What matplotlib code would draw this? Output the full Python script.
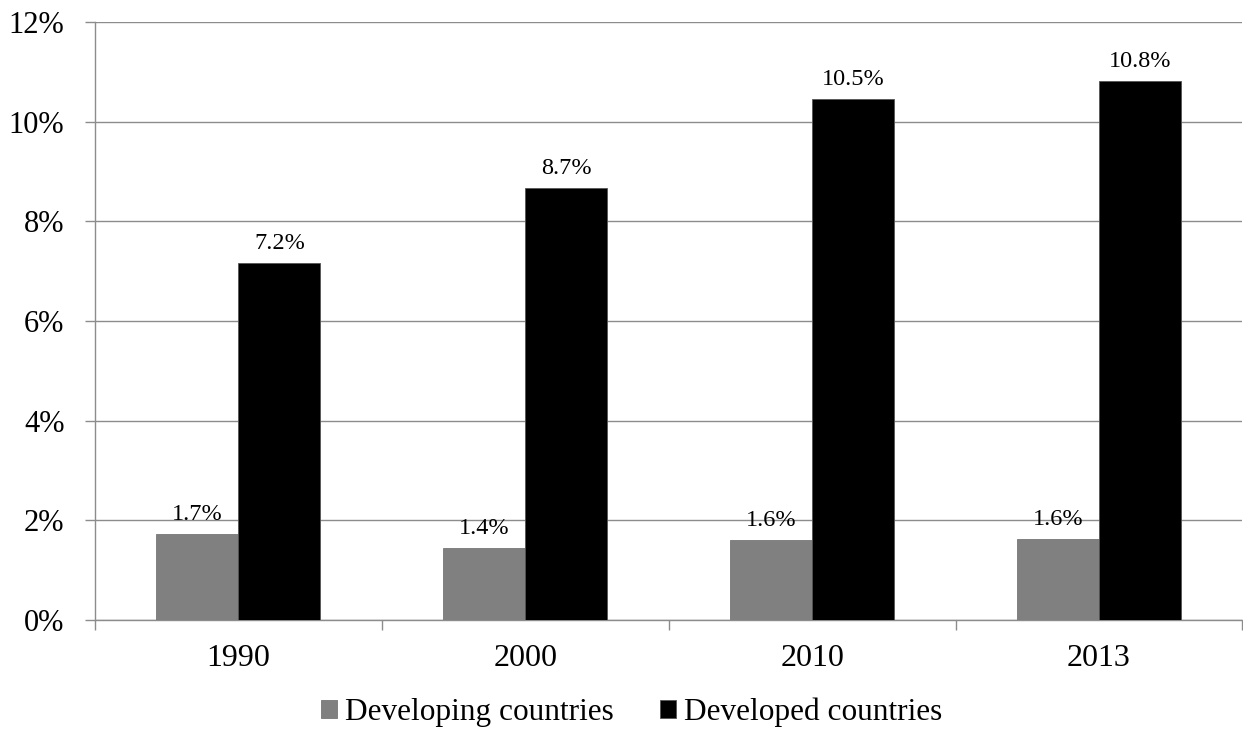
import numpy as np
import matplotlib.pyplot as plt
from matplotlib.ticker import FuncFormatter, FixedLocator

plt.rcParams['font.family'] = ['Liberation Serif', 'DejaVu Serif']

years      = ['1990', '2000', '2010', '2013']
developing = [1.72, 1.44, 1.60, 1.62]
developed  = [7.17, 8.66, 10.46, 10.82]
dev_lbl    = ['1.7%', '1.4%', '1.6%', '1.6%']
ded_lbl    = ['7.2%', '8.7%', '10.5%', '10.8%']

GRID = '#8c8c8c'

fig = plt.figure(figsize=(12.43, 7.29), dpi=100)
ax = fig.add_axes([0.0764, 0.1495, 0.9236 - 0.0005, 0.8205])

x = np.arange(len(years))
w = 0.286
b1 = ax.bar(x - w/2, developing, w, color='#808080', edgecolor='#777777', linewidth=0.6,
            label='Developing countries', zorder=3)
b2 = ax.bar(x + w/2, developed, w, color='#000000', edgecolor='#555555', linewidth=0.6,
            label='Developed countries', zorder=3)

for bars, lbls in ((b1, dev_lbl), (b2, ded_lbl)):
  for r, t in zip(bars, lbls):
    ax.annotate(t, (r.get_x() + r.get_width()/2, r.get_height()), xytext=(0, 6.5),
                textcoords='offset points', ha='center', va='bottom', fontsize=17.5)

ax.set_ylim(0, 12)
ax.set_xlim(-0.5, 3.5)
ax.set_yticks(np.arange(0, 13, 2))
ax.yaxis.set_major_formatter(FuncFormatter(lambda v, p: '%d%%' % v))
ax.grid(axis='y', color=GRID, linewidth=1.0, zorder=0)

# year labels centred, ticks on category boundaries
ax.set_xticks(x)
ax.set_xticklabels(years)
ax.xaxis.set_minor_locator(FixedLocator(np.arange(-0.5, 4.0, 1.0)))
ax.tick_params(axis='x', which='major', length=0, pad=17, labelsize=23)
ax.tick_params(axis='x', which='minor', length=7, width=1.0, color=GRID)
ax.tick_params(axis='y', length=7, width=1.0, color=GRID, labelsize=22, pad=15)

for s in ['top', 'right']:
  ax.spines[s].set_visible(False)
for s in ['left', 'bottom']:
  ax.spines[s].set_color(GRID)
  ax.spines[s].set_linewidth(1.0)

fig.legend(handles=[b1, b2], loc='center', bbox_to_anchor=(0.508, 0.0233), ncol=2,
           frameon=False, fontsize=22.5, handlelength=0.5, handleheight=0.5,
           handletextpad=0.25, columnspacing=1.5, borderpad=0, borderaxespad=0)

fig.savefig('out.png', dpi=100)
